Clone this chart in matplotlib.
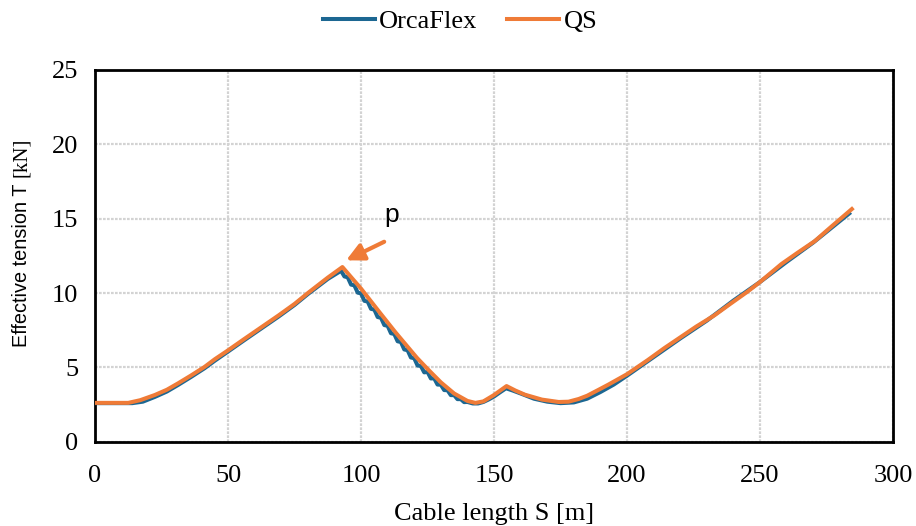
import matplotlib
matplotlib.use("Agg")
import matplotlib.pyplot as plt

# effective tension along the cable, QS model
s_qs = [0, 12.5, 17, 22.5, 27, 31.2, 36, 41.2, 45, 50, 56, 62.5, 69, 75, 80, 87.5, 93,
        100, 107, 113, 121, 125, 130, 135, 140, 143, 146, 150, 154.7,
        158, 161.6, 168, 174.3, 178, 181.8, 185, 189.3, 193, 196, 200, 207.8, 214, 220.3,
        226, 232.8, 239, 245.3, 250, 258, 264, 270.6, 277, 284.5]
t_qs = [2.62, 2.62, 2.8, 3.15, 3.5, 3.93, 4.45, 5.04, 5.55, 6.15, 6.9, 7.7, 8.5, 9.27, 10.0, 11.04, 11.75,
        10.3, 8.7, 7.35, 5.65, 4.9, 4.0, 3.25, 2.75, 2.62, 2.72, 3.15, 3.75,
        3.45, 3.17, 2.84, 2.68, 2.7, 2.88, 3.1, 3.5, 3.85, 4.15, 4.55, 5.5, 6.3, 7.06,
        7.75, 8.5, 9.3, 10.1, 10.75, 11.95, 12.7, 13.5, 14.5, 15.65]

# OrcaFlex result (sawtooth on the falling branch)
s_of = [0, 14, 18, 22.5, 27, 31.2, 36, 41.2, 45, 50, 56, 62.5, 69, 75, 80, 87.5,
        92.5, 93.75, 95.0, 96.25, 97.5, 98.75, 100.0, 101.25, 102.5, 103.75, 105.0,
        106.25, 107.5, 108.75, 110.0, 111.25, 112.5, 113.75, 115.0, 116.25, 117.5,
        118.75, 120.0, 121.25, 122.5, 123.75, 125.0, 126.25, 127.5, 128.75, 130.0,
        131.25, 132.5, 133.75, 135.0, 136.25, 137.5, 138.75, 140.0,
        142, 144, 146, 148, 150, 152, 154.5, 157, 160, 165, 170, 175, 180, 185, 190,
        195, 200, 210, 220, 230, 240, 250, 260, 270, 283.5]
t_of = [2.6, 2.6, 2.7, 3.02, 3.38, 3.82, 4.35, 4.95, 5.45, 6.07, 6.82, 7.62, 8.42, 9.2, 9.93, 10.95,
        11.5, 11.12, 11.06, 10.57, 10.52, 10.03, 9.98, 9.48, 9.43, 8.94, 8.89,
        8.39, 8.34, 7.85, 7.8, 7.3, 7.25, 6.76, 6.71, 6.21, 6.16,
        5.67, 5.62, 5.13, 5.1, 4.67, 4.7, 4.26, 4.27, 3.85, 3.84,
        3.48, 3.47, 3.14, 3.14, 2.87, 2.87, 2.67, 2.68,
        2.58, 2.58, 2.68, 2.85, 3.05, 3.3, 3.6, 3.45, 3.25, 2.9, 2.7, 2.6, 2.65, 2.9, 3.35,
        3.85, 4.45, 5.7, 6.95, 8.15, 9.5, 10.75, 12.1, 13.4, 15.35]

blue = "#1C6792"
orange = "#EF7B37"

fig = plt.figure(figsize=(9.16, 5.26), dpi=100)
ax = fig.add_axes([0.1037, 0.160, 0.8713, 0.707])

ax.plot(s_of, t_of, color=blue, lw=2.9, label="OrcaFlex", zorder=3)
ax.plot(s_qs, t_qs, color=orange, lw=2.9, label="QS", zorder=4)

ax.annotate("", xy=(94.4, 12.2), xytext=(108.7, 13.45),
            arrowprops=dict(arrowstyle="-|>", color=orange, lw=3, mutation_scale=26,
                            shrinkA=0, shrinkB=0), zorder=5)
ax.text(111.6, 15.25, "p", fontsize=19, family="Liberation Sans", ha="center", va="center")

ax.set_xlim(0, 300)
ax.set_ylim(0, 25)
ax.set_xticks(range(0, 301, 50))
ax.set_yticks(range(0, 26, 5))
ax.grid(True, color="#D3D3D3", lw=1.6, ls=(0, (1.2, 0.6)))
ax.set_axisbelow(True)
for sp in ax.spines.values():
    sp.set_linewidth(2)
    sp.set_color("black")
ax.tick_params(length=0, labelsize=19)
ax.tick_params(axis="x", pad=17)
ax.tick_params(axis="y", pad=12)
for lab in ax.get_xticklabels() + ax.get_yticklabels():
    lab.set_family("Liberation Serif")

ax.set_xlabel("Cable length S [m]", fontsize=19, family="Liberation Serif", labelpad=11)

# y label: sans text with serif unit
fig.text(0.023, 0.495, "Effective tension T", rotation=90, fontsize=14.3,
         family="Liberation Sans", ha="center", va="center")
fig.text(0.023, 0.700, "[kN]", rotation=90, fontsize=15,
         family="Liberation Serif", ha="center", va="center")

fig.legend(loc="center", bbox_to_anchor=(0.502, 0.960), ncol=2, frameon=False,
           prop={"family": "Liberation Serif", "size": 19}, handlelength=2.0,
           handletextpad=0.15, columnspacing=1.1)

fig.savefig("out.png", dpi=100)
